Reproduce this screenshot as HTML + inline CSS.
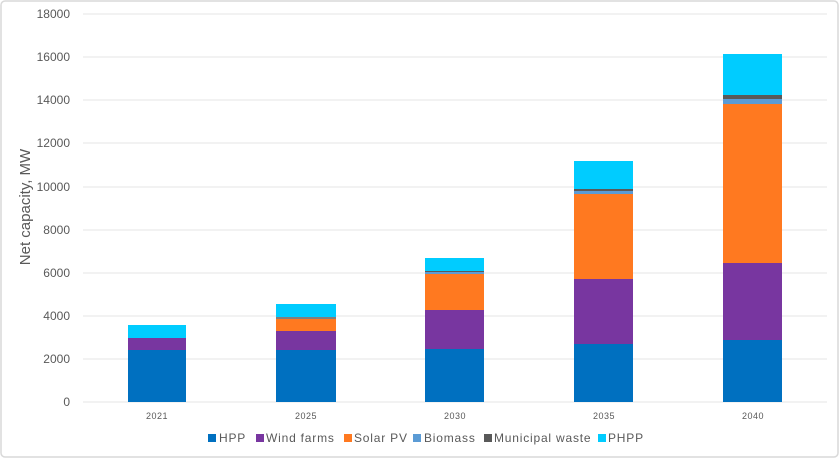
<!DOCTYPE html>
<html><head><meta charset="utf-8"><style>
body{margin:0;background:#fff;}
svg{display:block;font-family:"Liberation Sans",sans-serif;}
</style></head><body>
<svg width="840" height="459" viewBox="0 0 840 459">
<rect x="1" y="1" width="837" height="456" rx="4" fill="#fff" stroke="#d9d9d9" stroke-width="1.5"/>
<g stroke="#e6e6e6" stroke-width="1">
<line x1="83" x2="827" y1="14" y2="14"/><line x1="83" x2="827" y1="57" y2="57"/>
<line x1="83" x2="827" y1="100" y2="100"/><line x1="83" x2="827" y1="143" y2="143"/>
<line x1="83" x2="827" y1="187" y2="187"/><line x1="83" x2="827" y1="230" y2="230"/>
<line x1="83" x2="827" y1="273" y2="273"/><line x1="83" x2="827" y1="316" y2="316"/>
<line x1="83" x2="827" y1="359" y2="359"/><line x1="83" x2="827" y1="402" y2="402"/>
</g>
<g font-size="12" fill="#595959" text-anchor="end">
<text x="70" y="18">18000</text><text x="70" y="61">16000</text><text x="70" y="104">14000</text>
<text x="70" y="147">12000</text><text x="70" y="191">10000</text><text x="70" y="234">8000</text>
<text x="70" y="277">6000</text><text x="70" y="320">4000</text><text x="70" y="363">2000</text>
<text x="70" y="406">0</text>
</g>
<text transform="translate(30,207) rotate(-90)" font-size="15" fill="#595959" text-anchor="middle">Net capacity, MW</text>
<!-- 2021 -->
<rect x="128" y="350" width="58" height="52" fill="#0070c0"/>
<rect x="128" y="338" width="58" height="12" fill="#7836a0"/>
<rect x="128" y="325" width="58" height="13" fill="#00ccff"/>
<!-- 2025 -->
<rect x="276" y="350" width="60" height="52" fill="#0070c0"/>
<rect x="276" y="331" width="60" height="19" fill="#7836a0"/>
<rect x="276" y="319" width="60" height="12" fill="#ff7920"/>
<rect x="276" y="317" width="60" height="2" fill="#7f7f7f"/>
<rect x="276" y="304" width="60" height="13" fill="#00ccff"/>
<!-- 2030 -->
<rect x="425" y="349" width="59" height="53" fill="#0070c0"/>
<rect x="425" y="310" width="59" height="39" fill="#7836a0"/>
<rect x="425" y="274" width="59" height="36" fill="#ff7920"/>
<rect x="425" y="272" width="59" height="2" fill="#5b9bd5"/>
<rect x="425" y="271" width="59" height="1" fill="#595959"/>
<rect x="425" y="258" width="59" height="13" fill="#00ccff"/>
<!-- 2035 -->
<rect x="574" y="344" width="59" height="58" fill="#0070c0"/>
<rect x="574" y="279" width="59" height="65" fill="#7836a0"/>
<rect x="574" y="194" width="59" height="85" fill="#ff7920"/>
<rect x="574" y="191" width="59" height="3" fill="#5b9bd5"/>
<rect x="574" y="189" width="59" height="2" fill="#595959"/>
<rect x="574" y="161" width="59" height="28" fill="#00ccff"/>
<!-- 2040 -->
<rect x="723" y="340" width="59" height="62" fill="#0070c0"/>
<rect x="723" y="263" width="59" height="77" fill="#7836a0"/>
<rect x="723" y="104" width="59" height="159" fill="#ff7920"/>
<rect x="723" y="99" width="59" height="5" fill="#5b9bd5"/>
<rect x="723" y="95" width="59" height="4" fill="#595959"/>
<rect x="723" y="54" width="59" height="41" fill="#00ccff"/>
<g font-size="9" fill="#595959" text-anchor="middle" letter-spacing="0.5">
<text x="157" y="419">2021</text><text x="306" y="419">2025</text><text x="455" y="419">2030</text>
<text x="604" y="419">2035</text><text x="753" y="419">2040</text>
</g>
<g font-size="12" fill="#595959" letter-spacing="0.8">
<rect x="208" y="434" width="8" height="8" fill="#0070c0"/><text x="219" y="442">HPP</text>
<rect x="256" y="434" width="8" height="8" fill="#7836a0"/><text x="266" y="442">Wind farms</text>
<rect x="344" y="434" width="8" height="8" fill="#ff7920"/><text x="354" y="442">Solar PV</text>
<rect x="413" y="434" width="8" height="8" fill="#5b9bd5"/><text x="424" y="442">Biomass</text>
<rect x="484" y="434" width="8" height="8" fill="#595959"/><text x="494" y="442">Municipal waste</text>
<rect x="598" y="434" width="8" height="8" fill="#00ccff"/><text x="608" y="442">PHPP</text>
</g>
</svg>
</body></html>
